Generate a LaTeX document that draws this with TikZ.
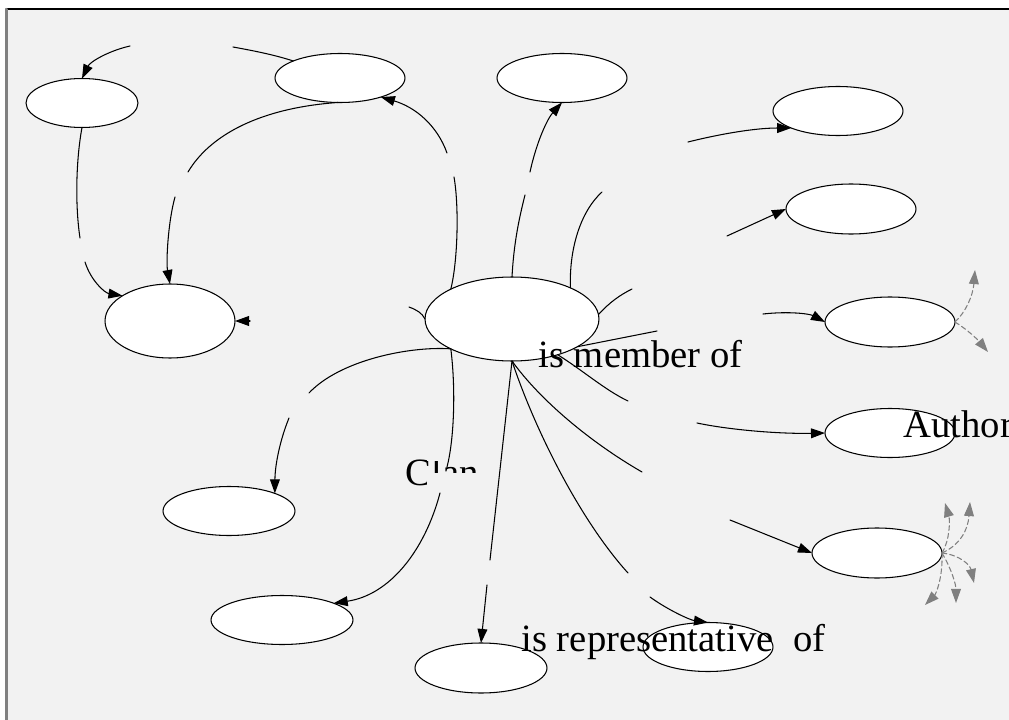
\documentclass[tikz,border=0pt]{standalone}
\usepackage{fontspec}
\setmainfont{Liberation Serif}
\usetikzlibrary{shapes.geometric,arrows.meta}
\definecolor{paper}{HTML}{F2F2F2}

\begin{document}
\begin{tikzpicture}[x=0.02cm,y=-0.02cm,line width=0.6pt,line cap=round,line join=round,
  >={Triangle[length=8pt,width=5.6pt]},
  spot/.style={ellipse,draw,fill=white,inner sep=0pt,outer sep=0pt,minimum width=2.6cm,minimum height=0.98cm},
  lbl/.style={inner sep=0pt,anchor=base west,font=\fontsize{22}{26}\selectfont},
  ghost/.style={draw=gray,dash pattern=on 2.8pt off 1.7pt,->}]
\useasboundingbox (0,0) rectangle (1009,720);
\fill[paper] (7,9) rectangle (1012,725);
\draw (6,9) -- (1012,9);
\draw[gray,line width=1.2pt] (6.5,9) -- (6.5,725);

\node[spot,minimum width=2.24cm] (tl) at (82,103) {};
\node[spot] (top) at (340,78) {};
\node[spot] (topmid) at (562,78) {};
\node[spot] (r1) at (838,111) {};
\node[spot,minimum height=1cm] (r2) at (851,209) {};
\node[spot,minimum width=3.48cm,minimum height=1.68cm] (hub) at (512,319) {};
\node[spot,minimum height=1.48cm] (lbig) at (170,321) {};
\node[spot,minimum height=1cm] (r3) at (890,322) {};
\node[spot] (author) at (890,433) {};
\node[spot,minimum height=1cm] (r5) at (877,553) {};
\node[spot,minimum width=2.64cm] (ml) at (229,511) {};
\node[spot,minimum width=2.84cm] (bl) at (282,620) {};
\node[spot,minimum width=2.64cm,minimum height=1cm] (bm) at (481,668) {};
\node[spot] (br) at (708,647) {};

\coordinate (a0) at (130,46);
\coordinate (b0) at (233,47);
\coordinate (c1) at (188,172);
\coordinate (c2) at (175,197);
\coordinate (d1) at (80,238);
\coordinate (d2) at (85,262);
\coordinate (e0) at (250,321);
\coordinate (w0) at (409,307);
\coordinate (f1) at (454,177);
\coordinate (f2) at (447,153);
\coordinate (g1) at (525,195);
\coordinate (g2) at (530,172);
\coordinate (h1) at (602,192);
\coordinate (h2) at (688,142);
\coordinate (i1) at (632,289);
\coordinate (i2) at (727,236);
\coordinate (m1) at (657,331);
\coordinate (m2) at (763,314);
\coordinate (j1) at (628,401);
\coordinate (j2) at (697,423);
\coordinate (k1) at (642,472);
\coordinate (k2) at (730,520);
\coordinate (n1) at (628,573);
\coordinate (n2) at (650,597);
\coordinate (p1) at (490,560);
\coordinate (p2) at (487,585);
\coordinate (q1) at (447,467);
\coordinate (q2) at (440,493);
\coordinate (s1) at (309,393);
\coordinate (s2) at (289,418);

\draw[->] (a0) .. controls (108,51) and (90,62) .. (tl.north);
\draw (b0) .. controls (255,51) and (275,55) .. (top.160);
\draw (top.265) .. controls (260,108) and (210,135) .. (c1);
\draw[->] (c2) .. controls (168,222) and (166,262) .. (lbig.north);
\draw (tl.south) .. controls (76,160) and (75,205) .. (d1);
\draw[->] (d2) .. controls (91,281) and (105,293) .. (lbig.152);
\draw[->] (e0) -- (lbig.east);
\draw (w0) .. controls (417,310) and (422,313) .. (hub.west);
\draw (hub.154) .. controls (458,260) and (459,205) .. (f1);
\draw[->] (f2) .. controls (437,125) and (415,107) .. (top.-25);
\draw (hub.north) .. controls (514,240) and (520,215) .. (g1);
\draw[->] (g2) .. controls (537,140) and (548,118) .. (topmid.south);
\draw (hub.28) .. controls (569,250) and (580,212) .. (h1);
\draw[->] (h2) .. controls (720,134) and (755,128) .. (r1.200);
\draw (hub.3) .. controls (610,302) and (620,295) .. (i1);
\draw[->] (i2) -- (r2.west);
\draw (hub.-23) -- (m1);
\draw[->] (m2) .. controls (790,311) and (810,314) .. (r3.west);
\draw (hub.-38) .. controls (585,372) and (605,390) .. (j1);
\draw[->] (j2) .. controls (730,430) and (780,434) .. (author.west);
\draw (hub.south) .. controls (540,400) and (590,442) .. (k1);
\draw[->] (k2) -- (r5.west);
\draw (hub.south) .. controls (535,430) and (580,520) .. (n1);
\draw[->] (n2) .. controls (668,610) and (690,620) .. (br.north);
\draw (hub.south) -- (p1);
\draw[->] (p2) -- (bm.north);
\draw (hub.206) .. controls (456,390) and (454,440) .. (q1);
\draw[->] (q2) .. controls (425,550) and (390,595) .. (bl.18);
\draw (hub.206) .. controls (410,346) and (340,360) .. (s1);
\draw[->] (s2) .. controls (280,440) and (275,465) .. (ml.21);

\draw[ghost] (r3.east) .. controls (966,312) and (973,295) .. (975,270);
\draw[ghost] (r3.east) .. controls (968,330) and (978,340) .. (988,352);
\draw[ghost] (r5.east) .. controls (950,540) and (950,520) .. (945,503);
\draw[ghost] (r5.east) .. controls (960,545) and (968,530) .. (970,502);
\draw[ghost] (r5.east) .. controls (960,555) and (970,565) .. (974,583);
\draw[ghost] (r5.east) .. controls (952,570) and (956,585) .. (956,603);
\draw[ghost] (r5.east) .. controls (943,580) and (935,595) .. (925,605);

\node[lbl] (member) at (538,367) {is member of};
\node[lbl] (rep) at (521,651) {is representative\ \ of};
\node[lbl] (auth) at (903,437) {Author};
\begin{scope}
\clip (400,455) rectangle (426,490) (426,461) rectangle (482,472);
\node[lbl] (clan) at (405,485) {Clan};
\end{scope}
\end{tikzpicture}
\end{document}
